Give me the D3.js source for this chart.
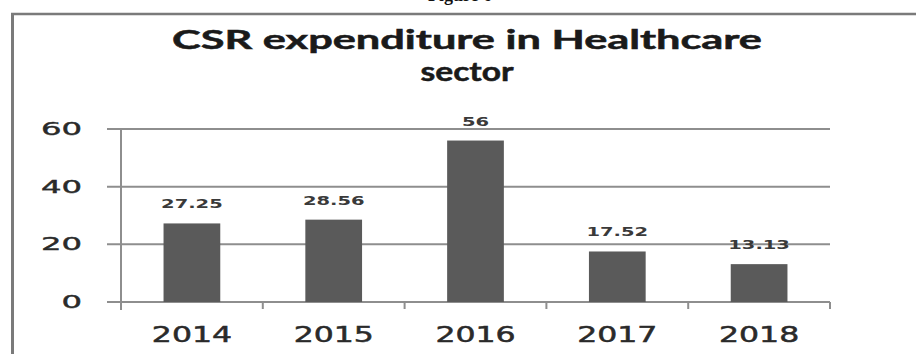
<!DOCTYPE html>
<html>
<head>
<meta charset="utf-8">
<script src="https://cdn.jsdelivr.net/npm/d3@7"></script>
<style>
  body { margin: 0; background: #fff; }
</style>
</head>
<body>
<div id="chart"></div>
<script>
// data
const years = ["2014", "2015", "2016", "2017", "2018"];
const values = [27.25, 28.56, 56, 17.52, 13.13];
const valueLabels = ["27.25", "28.56", "56", "17.52", "13.13"];
const yTicks = [0, 20, 40, 60];
const titleLines = ["CSR expenditure in Healthcare", "sector"];

const W = 916, H = 354;
const svg = d3.select("#chart").append("svg")
  .attr("width", W).attr("height", H);

svg.append("rect").attr("width", W).attr("height", H).attr("fill", "#fff");

// bit of the figure caption, cut off at the top like in the scan
svg.append("text")
  .attr("x", 460).attr("y", 1)
  .attr("text-anchor", "middle")
  .attr("font-family", "Liberation Serif")
  .attr("font-weight", "bold")
  .attr("font-size", 18)
  .attr("fill", "#111")
  .text("Figure 6");

// frame of the chart area (top + left only visible)
svg.append("line")
  .attr("x1", 11).attr("x2", W).attr("y1", 14).attr("y2", 14)
  .attr("stroke", "#7a7a7a").attr("stroke-width", 2.5);
svg.append("line")
  .attr("x1", 12.5).attr("x2", 12.5).attr("y1", 13).attr("y2", H)
  .attr("stroke", "#7a7a7a").attr("stroke-width", 3);

// title
const title = svg.append("g")
  .attr("font-family", "Lato")
  .attr("font-weight", "bold")
  .attr("font-size", 26)
  .attr("fill", "#1a1a1a")
  .attr("stroke", "#1a1a1a")
  .attr("stroke-width", 0.5)
  .attr("text-anchor", "middle");
title.append("text")
  .attr("x", 467).attr("y", 49)
  .attr("textLength", 590)
  .attr("lengthAdjust", "spacingAndGlyphs")
  .text(titleLines[0]);
title.append("text")
  .attr("x", 467).attr("y", 81)
  .attr("textLength", 93)
  .attr("lengthAdjust", "spacingAndGlyphs")
  .text(titleLines[1]);

// scales
const x = d3.scaleBand().domain(years).range([121, 830]);
const y = d3.scaleLinear().domain([0, 60]).range([302, 129]);

// gridlines (they run a bit left of the axis, like tick marks)
svg.append("g").selectAll("line")
  .data(yTicks)
  .join("line")
  .attr("x1", 107).attr("x2", 830)
  .attr("y1", d => y(d)).attr("y2", d => y(d))
  .attr("stroke", "#8e8e8e").attr("stroke-width", 2);

// y axis line
svg.append("line")
  .attr("x1", 121).attr("x2", 121)
  .attr("y1", y(60)).attr("y2", y(0) + 8)
  .attr("stroke", "#8e8e8e").attr("stroke-width", 2);

// category separator ticks
svg.append("g").selectAll("line")
  .data(years)
  .join("line")
  .attr("x1", d => x(d) + x.bandwidth()).attr("x2", d => x(d) + x.bandwidth())
  .attr("y1", y(0)).attr("y2", y(0) + 7)
  .attr("stroke", "#8e8e8e").attr("stroke-width", 2);

// y labels (stretched like the original picture)
svg.append("g").selectAll("text")
  .data(yTicks)
  .join("text")
  .attr("transform", d => `translate(82,${y(d) + 6}) scale(1.9,1)`)
  .attr("text-anchor", "end")
  .attr("font-family", "DejaVu Sans")
  .attr("font-size", 17)
  .attr("fill", "#2a2a2a")
  .attr("stroke", "#2a2a2a")
  .attr("stroke-width", 0.4)
  .text(d => d);

// bars
const barW = x.bandwidth() * 0.4;
svg.append("g").selectAll("rect")
  .data(values)
  .join("rect")
  .attr("x", (d, i) => x(years[i]) + (x.bandwidth() - barW) / 2)
  .attr("y", d => y(d))
  .attr("width", barW)
  .attr("height", d => y(0) - y(d))
  .attr("fill", "#5a5a5a");

// value labels
svg.append("g").selectAll("text")
  .data(values)
  .join("text")
  .attr("transform", (d, i) => `translate(${x(years[i]) + x.bandwidth() / 2},${y(d) - 15}) scale(1.5,1)`)
  .attr("text-anchor", "middle")
  .attr("font-family", "DejaVu Sans")
  .attr("font-weight", "bold")
  .attr("font-size", 13)
  .attr("fill", "#3a3a3a")
  .text((d, i) => valueLabels[i]);

// x labels
svg.append("g").selectAll("text")
  .data(years)
  .join("text")
  .attr("transform", d => `translate(${x(d) + x.bandwidth() / 2},342) scale(1.5,1)`)
  .attr("text-anchor", "middle")
  .attr("font-family", "DejaVu Sans")
  .attr("font-size", 21)
  .attr("fill", "#2a2a2a")
  .attr("stroke", "#2a2a2a")
  .attr("stroke-width", 0.5)
  .text(d => d);
</script>
</body>
</html>
